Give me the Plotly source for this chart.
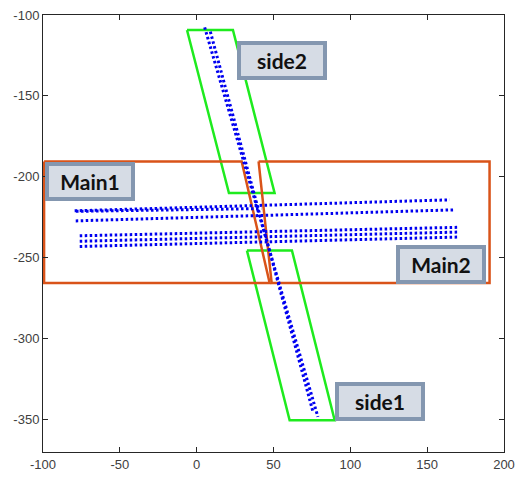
import plotly.graph_objects as go

# Lane marking detections (dotted lines), as start/end points
main_x0 = [-79.4, -78.5, -78.7, -76.1, -76.1, -76.1]
main_y0 = [-221.0, -221.3, -227.2, -236.4, -239.8, -243.0]
main_x1 = [164.6, 42.0, 167.2, 169.8, 171.1, 171.1]
main_y1 = [-214.2, -219.6, -220.4, -231.2, -234.1, -237.2]

side_x0 = [5.2, 8.9]
side_y0 = [-107.6, -110.3]
side_x1 = [78.9, 75.5]
side_y1 = [-348.3, -344.5]

# Road region outlines
main1_x = [-99.3, 29.3, 47.5, -99.3]
main1_y = [-190.5, -190.5, -265.6, -265.6]
main2_x = [40.3, 190.6, 190.6, 48.8]
main2_y = [-190.5, -190.5, -265.6, -265.6]

side2_x = [-6.3, 23.6, 50.7, 21.0]
side2_y = [-109.3, -109.3, -210.0, -210.0]
side1_x = [32.7, 62.0, 89.8, 60.5]
side1_y = [-245.5, -245.5, -350.4, -350.4]

# Region labels
label_text = ["Main1", "Main2", "side1", "side2"]
label_x = [-69.3, 159.0, 119.3, 55.3]
label_y = [-202.7, -254.1, -338.5, -128.3]

x_ticks = [-100, -50, 0, 50, 100, 150, 200]
x_tick_text = ["-100", "-50", "0", "50", "100", "150", "200"]
y_ticks = [-350, -300, -250, -200, -150, -100]
y_tick_text = ["-350", "-300", "-250", "-200", "-150", "-100"]

ORANGE = "#D95319"
GREEN = "#1EEB1E"
BLUE = "#0000F0"

fig = go.Figure()


def closed(v):
    return list(v) + [v[0]]


for xs, ys in [(side2_x, side2_y), (side1_x, side1_y)]:
    fig.add_trace(go.Scatter(x=closed(xs), y=closed(ys), mode="lines",
                             line=dict(color=GREEN, width=2.5),
                             hoverinfo="skip"))

for xs, ys in [(main1_x, main1_y), (main2_x, main2_y)]:
    fig.add_trace(go.Scatter(x=closed(xs), y=closed(ys), mode="lines",
                             line=dict(color=ORANGE, width=2.5),
                             hoverinfo="skip"))

dot_style = dict(color=BLUE, width=3, dash="2.5px,2.5px")

for x0, y0, x1, y1 in zip(main_x0, main_y0, main_x1, main_y1):
    fig.add_trace(go.Scatter(x=[x0, x1], y=[y0, y1], mode="lines",
                             line=dot_style, hoverinfo="skip"))

for x0, y0, x1, y1 in zip(side_x0, side_y0, side_x1, side_y1):
    fig.add_trace(go.Scatter(x=[x0, x1], y=[y0, y1], mode="lines",
                             line=dot_style, hoverinfo="skip"))

for t, x, y in zip(label_text, label_x, label_y):
    fig.add_annotation(x=x, y=y, xref="x", yref="y", text="<b>%s</b>" % t,
                       showarrow=False, xanchor="center", yanchor="middle",
                       width=82, height=31, borderpad=0, borderwidth=4,
                       bgcolor="#D6DCE5", bordercolor="#8497B0",
                       font=dict(family="Lato", size=21, color="#111111"))

axis_common = dict(showline=True, mirror="ticks", linecolor="#262626",
                   linewidth=1, ticks="inside", ticklen=5, tickcolor="#262626",
                   showgrid=False, zeroline=False, automargin=False,
                   tickfont=dict(family="Liberation Sans", size=13, color="#404040"))

fig.update_xaxes(range=[-100, 200], tickvals=x_ticks, ticktext=x_tick_text,
                 **axis_common)
fig.update_yaxes(range=[-370, -100], tickvals=y_ticks, ticktext=y_tick_text,
                 **axis_common)

fig.update_layout(width=522, height=487, showlegend=False,
                  margin=dict(l=43, r=18, t=15, b=35),
                  paper_bgcolor="white", plot_bgcolor="white")

fig.write_html("out.html")
